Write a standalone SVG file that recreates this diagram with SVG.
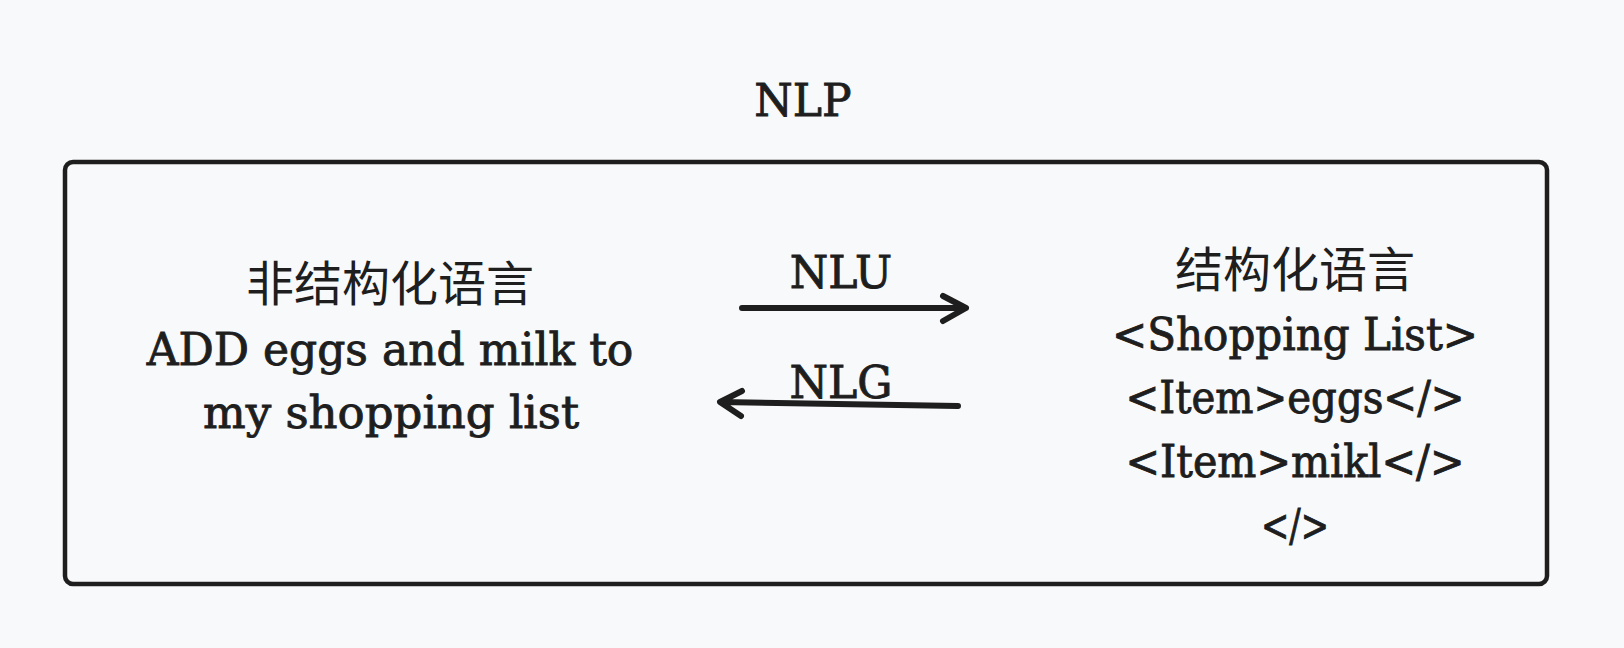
<svg xmlns="http://www.w3.org/2000/svg" width="1624" height="648" viewBox="0 0 1624 648">
<style>
.t{font-family:"DejaVu Serif","Noto Sans CJK SC",serif;font-size:44px;fill:#1e1e1e;stroke:#1e1e1e;stroke-width:0.9;text-anchor:middle}
.c{font-family:"Noto Sans CJK SC",sans-serif;font-size:48px;fill:#1e1e1e;text-anchor:middle}
.a{fill:none;stroke:#1e1e1e;stroke-width:6;stroke-linecap:round;stroke-linejoin:round}
</style>
<rect width="1624" height="648" fill="#f8f9fa"/>
<g id="title"><text class="t" x="803" y="116">NLP</text></g>
<g id="nlp-box"><rect x="65" y="162" width="1482" height="422" rx="8" fill="none" stroke="#1e1e1e" stroke-width="4.5"/></g>
<g id="unstructured">
<text class="c" x="390" y="301">非结构化语言</text>
<text class="t" x="390" y="365">ADD eggs and milk to</text>
<text class="t" x="391" y="428" textLength="376" lengthAdjust="spacingAndGlyphs">my shopping list</text>
</g>
<g id="structured">
<text class="c" x="1295" y="287">结构化语言</text>
<text class="t" x="1295" y="350" textLength="366" lengthAdjust="spacingAndGlyphs">&lt;Shopping List&gt;</text>
<text class="t" x="1295" y="413" textLength="339" lengthAdjust="spacingAndGlyphs">&lt;Item&gt;eggs&lt;/&gt;</text>
<text class="t" x="1295" y="477" textLength="339" lengthAdjust="spacingAndGlyphs">&lt;Item&gt;mikl&lt;/&gt;</text>
<text class="t" x="1295" y="541" textLength="68" lengthAdjust="spacingAndGlyphs">&lt;/&gt;</text>
</g>
<g id="connectors">
<path class="a" d="M742,308 L965,308 M943,296 L966,308 L943,321"/>
<text class="t" x="841" y="288">NLU</text>
<path class="a" d="M958,406 L721,402 M742,391 L720,402 L741,416"/>
<text class="t" x="841" y="398">NLG</text>
</g>
</svg>
